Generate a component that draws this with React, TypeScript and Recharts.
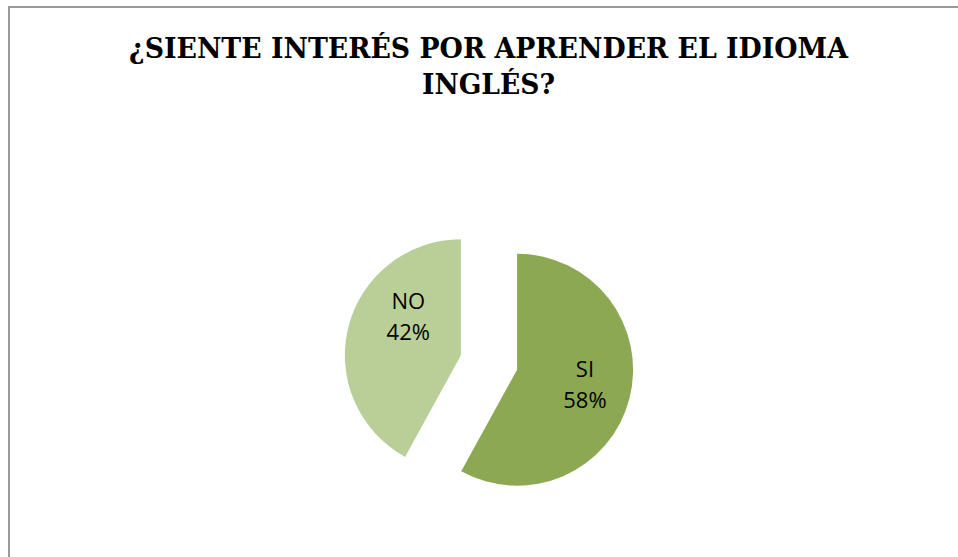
import React from 'react';
import { PieChart, Pie, Cell, Sector } from 'recharts';

const categories = ['SI', 'NO'];
const values = [58, 42];
const colors = ['#8DA852', '#BACF97'];
const titleLines = ['¿SIENTE INTERÉS POR APRENDER EL IDIOMA', 'INGLÉS?'];

const chartData = categories.map((name, i) => ({ name, value: values[i] }));

const RAD = Math.PI / 180;
const EXPLODE = 29;
// Excel "best fit" nudges the NO label a bit upward
const labelAngleShift: Record<string, number> = { SI: 1.5, NO: -21.5 };
const labelRadius: Record<string, number> = { SI: 0.6, NO: 0.56 };

const ExplodedSlice = (props: any) => {
    const { cx, cy, midAngle } = props;
    const dx = Math.cos(midAngle * RAD) * EXPLODE;
    const dy = -Math.sin(midAngle * RAD) * EXPLODE;
    return <Sector {...props} cx={cx + dx} cy={cy + dy} stroke="none" />;
};

const SliceLabel = (props: any) => {
    const { cx, cy, midAngle, outerRadius, name, percent } = props;
    const ox = cx + Math.cos(midAngle * RAD) * EXPLODE;
    const oy = cy - Math.sin(midAngle * RAD) * EXPLODE;
    const a = (midAngle + (labelAngleShift[name] || 0)) * RAD;
    const r = outerRadius * (labelRadius[name] || 0.6);
    const x = ox + Math.cos(a) * r;
    const y = oy - Math.sin(a) * r;
    return (
        <text x={x} y={y} textAnchor="middle" fill="#000" fontFamily="'Open Sans', sans-serif" fontSize={22}>
            <tspan x={x} dy={-8}>{name}</tspan>
            <tspan x={x} dy={31}>{`${Math.round(percent * 100)}%`}</tspan>
        </text>
    );
};

const titleFont = "'DejaVu Serif Condensed', 'DejaVu Serif', serif";

export default function App() {
    return (
        <div style={{ position: 'fixed', left: 0, top: 0, width: 958, height: 557, overflow: 'hidden', background: '#fff' }}>
            <div
                style={{
                    position: 'absolute',
                    left: 8,
                    top: 6,
                    width: 1000,
                    height: 600,
                    border: '2px solid #999',
                    boxSizing: 'border-box',
                }}
            />
            <div style={{ position: 'absolute', left: 0, top: 0 }}>
                <PieChart width={958} height={557} margin={{ top: 0, right: 0, bottom: 0, left: 0 }}>
                    <text
                        x={488.5}
                        y={58}
                        textAnchor="middle"
                        fontFamily={titleFont}
                        fontWeight="bold"
                        fontSize={27.5}
                        textLength={719}
                        lengthAdjust="spacingAndGlyphs"
                    >
                        {titleLines[0]}
                    </text>
                    <text
                        x={488.5}
                        y={93.5}
                        textAnchor="middle"
                        fontFamily={titleFont}
                        fontWeight="bold"
                        fontSize={27.5}
                        textLength={133}
                        lengthAdjust="spacingAndGlyphs"
                    >
                        {titleLines[1]}
                    </text>
                    <Pie
                        data={chartData}
                        dataKey="value"
                        nameKey="name"
                        cx={489}
                        cy={362.5}
                        outerRadius={116}
                        startAngle={90}
                        endAngle={-270}
                        shape={ExplodedSlice}
                        label={SliceLabel}
                        labelLine={false}
                        isAnimationActive={false}
                    >
                        {chartData.map((d, i) => (
                            <Cell key={d.name} fill={colors[i]} />
                        ))}
                    </Pie>
                </PieChart>
            </div>
        </div>
    );
}
